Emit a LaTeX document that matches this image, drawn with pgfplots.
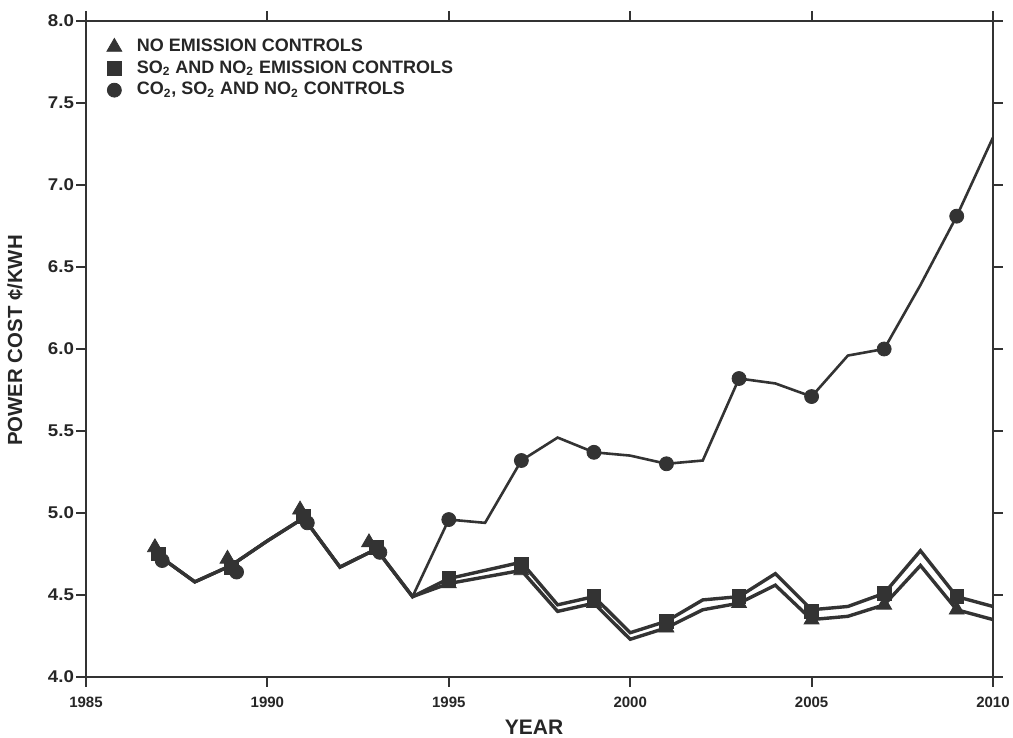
\documentclass[border=0pt]{standalone}
\usepackage{pgfplots}
\pgfplotsset{compat=1.18}
\usepackage{fontspec}
\setmainfont{Liberation Sans}
\begin{document}
\begin{tikzpicture}
\begin{axis}[
  width=453.5pt, height=328pt, scale only axis,
  xmin=1985, xmax=2010, ymin=4, ymax=8,
  xtick={1985,1990,...,2010},
  ytick={4,4.5,...,8},
  /pgf/number format/assume math mode=true,
  /pgf/number format/1000 sep={},
  tick align=outside, major tick length=5pt,
  xtick pos=both, ytick pos=both,
  xticklabel style={font=\bfseries\fontsize{7.5}{8}\selectfont, black!85, yshift=-1.5pt},
  yticklabel style={font=\bfseries\addfontfeature{FakeStretch=1.1}\fontsize{8.5}{10}\selectfont, black!85, xshift=2.5pt,
    /pgf/number format/fixed, /pgf/number format/fixed zerofill, /pgf/number format/precision=1},
  tick style={line width=1pt, black!80},
  axis line style={line width=1pt, black!80},
  xlabel={\bfseries\fontsize{10.5}{12}\selectfont YEAR},
  ylabel={\bfseries\fontsize{10.2}{12}\selectfont POWER COST ¢/KWH},
  every axis x label/.style={at={(axis description cs:0.494,0)}, anchor=center, yshift=-25.3pt, black!85},
  every axis y label/.style={at={(axis description cs:-0.0783,0.513)}, anchor=center, rotate=90, black!85},
  legend style={at={(0.016,0.985)}, anchor=north west, draw=none, fill=none,
    font=\bfseries\fontsize{9}{10.5}\selectfont, row sep=-1pt, text=black!85},
  legend cell align=left,
  /tikz/every odd column/.style={column sep=5.5pt},
]
% lines
\addplot[black!80, line width=1.7pt, forget plot] coordinates {
(1987,4.74)(1988,4.58)(1989,4.68)(1990,4.83)(1991,4.97)(1992,4.67)(1993,4.78)(1994,4.49)
(1995,4.57)(1996,4.61)(1997,4.65)(1998,4.40)(1999,4.45)(2000,4.23)(2001,4.30)(2002,4.41)
(2003,4.45)(2004,4.56)(2005,4.35)(2006,4.37)(2007,4.44)(2008,4.68)(2009,4.41)(2010,4.35)};
\addplot[black!80, line width=1.7pt, forget plot] coordinates {
(1987,4.74)(1988,4.58)(1989,4.68)(1990,4.83)(1991,4.97)(1992,4.67)(1993,4.78)(1994,4.49)
(1995,4.60)(1996,4.65)(1997,4.70)(1998,4.44)(1999,4.49)(2000,4.27)(2001,4.34)(2002,4.47)
(2003,4.49)(2004,4.63)(2005,4.41)(2006,4.43)(2007,4.51)(2008,4.77)(2009,4.49)(2010,4.43)};
\addplot[black!80, line width=1.3pt, forget plot] coordinates {
(1987,4.74)(1988,4.58)(1989,4.68)(1990,4.83)(1991,4.97)(1992,4.67)(1993,4.78)(1994,4.49)
(1995,4.96)(1996,4.94)(1997,5.32)(1998,5.46)(1999,5.37)(2000,5.35)(2001,5.30)(2002,5.32)
(2003,5.82)(2004,5.79)(2005,5.71)(2006,5.96)(2007,6.00)(2008,6.39)(2009,6.81)(2010,7.29)};
% markers
\addplot[only marks, mark=triangle*, mark size=4.3pt, black!80] coordinates {
(1986.9,4.79)(1988.9,4.72)(1990.9,5.02)(1992.8,4.82)(1995,4.57)(1997,4.65)(1999,4.45)
(2001,4.30)(2003,4.45)(2005,4.35)(2007,4.44)(2009,4.41)};
\addlegendentry{NO EMISSION CONTROLS}
\addplot[only marks, mark=square*, mark size=3.4pt, black!80] coordinates {
(1987,4.75)(1989,4.67)(1991,4.98)(1993,4.79)(1995,4.60)(1997,4.69)(1999,4.49)
(2001,4.34)(2003,4.49)(2005,4.40)(2007,4.51)(2009,4.49)};
\addlegendentry{SO\textsubscript{2} AND NO\textsubscript{2} EMISSION CONTROLS}
\addplot[only marks, mark=*, mark size=3.5pt, black!80] coordinates {
(1987.1,4.71)(1989.15,4.64)(1991.1,4.94)(1993.1,4.76)(1995,4.96)(1997,5.32)(1999,5.37)
(2001,5.30)(2003,5.82)(2005,5.71)(2007,6.00)(2009,6.81)};
\addlegendentry{CO\textsubscript{2}, SO\textsubscript{2} AND NO\textsubscript{2} CONTROLS}
\end{axis}
\pgfresetboundingbox
\path[use as bounding box] ([xshift=-43pt,yshift=-30.5pt]current axis.south west) rectangle ([xshift=10pt,yshift=10.5pt]current axis.north east);
\end{tikzpicture}
\end{document}
